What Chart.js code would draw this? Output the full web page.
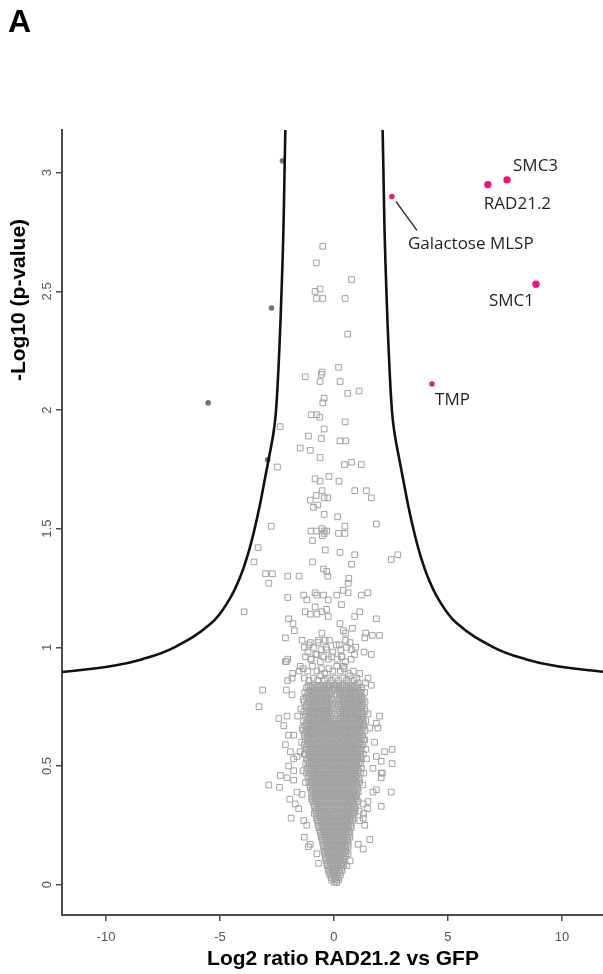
<!DOCTYPE html>
<html>
<head>
<meta charset="utf-8">
<script src="https://cdn.jsdelivr.net/npm/chart.js@4.4.0/dist/chart.umd.min.js"></script>
<style>
  html, body { margin: 0; padding: 0; background: #fff; }
</style>
</head>
<body>
<canvas id="volcano" width="603" height="974"></canvas>
<script>
// volcano plot - RAD21.2 pulldown vs GFP

// ---- Axis ticks ----
const xTicks = [-10, -5, 0, 5, 10];
const yTicks = [0, 0.5, 1, 1.5, 2, 2.5, 3];

// ---- Significance cut-off curves ----
const curveRightX = [2.12, 2.17, 2.22, 2.30, 2.40, 2.54, 2.66, 2.85, 3.05, 3.25, 3.48, 3.75, 4.1, 4.6, 5.4, 7.0, 8.4, 9.8, 12.0];
const curveRightY = [3.25, 3.0, 2.75, 2.5, 2.25, 2.0, 1.9, 1.8, 1.7, 1.6, 1.5, 1.4, 1.3, 1.2, 1.1, 1.0, 0.95, 0.92, 0.895];
const curveLeftX = [-12.0, -9.8, -8.4, -7.0, -5.4, -4.6, -4.1, -3.75, -3.48, -3.25, -3.05, -2.85, -2.66, -2.54, -2.40, -2.30, -2.22, -2.17, -2.12];
const curveLeftY = [0.895, 0.92, 0.95, 1.0, 1.1, 1.2, 1.3, 1.4, 1.5, 1.6, 1.7, 1.8, 1.9, 2.0, 2.25, 2.5, 2.75, 3.0, 3.25];

// ---- Significant hits (pink) ----
const hitNames = ["Galactose MLSP", "RAD21.2", "SMC3", "SMC1", "TMP"];
const hitX = [2.54, 6.75, 7.59, 8.86, 4.30];
const hitY = [2.90, 2.95, 2.97, 2.53, 2.11];

// ---- Filled grey points just outside the left curve ----
const edgeX = [-2.26, -2.74, -5.52, -2.91];
const edgeY = [3.05, 2.43, 2.03, 1.79];

// ---- Open squares: sparse upper part ----
const upperPts = [
  [-0.49,2.69],[-0.77,2.62],[0.77,2.55],[-0.61,2.51],[-0.83,2.50],[-0.77,2.47],[-0.49,2.47],[0.49,2.47],
  [0.60,2.32],[0.20,2.18],[-1.26,2.14],[-0.52,2.16],[-0.55,2.15],[-0.61,2.12],[0.27,2.12],[0.60,2.07],
  [1.10,2.08],[-0.43,2.05],[-0.49,2.03],[-1.0,1.98],[-0.75,1.98],[-0.62,1.97],[0.49,1.95],[-2.36,1.93],
  [-0.43,1.92],[-1.12,1.89],[-0.55,1.88],[0.26,1.87],[0.52,1.87],[-1.48,1.84],[-1.04,1.83],[-0.61,1.80],
  [-2.48,1.76],[0.46,1.77],[0.77,1.78],[1.20,1.77],[-0.83,1.71],[-0.61,1.70],[-0.22,1.72],[0.22,1.70],
  [0.91,1.66],[1.42,1.66],[1.64,1.63],[-1.04,1.62],[-0.78,1.64],[-0.52,1.66],[-0.43,1.63],[-0.27,1.63],
  [-0.90,1.59],[-0.71,1.60],[-0.43,1.56],[0.16,1.55],[-2.75,1.51],[1.86,1.52],[0.48,1.51],[-1.01,1.49],
  [-0.78,1.49],[-0.53,1.50],[-0.43,1.49],[-0.32,1.49],[-0.51,1.47],[-0.43,1.48],[0.20,1.48],[0.48,1.48],
  [-0.94,1.45],[-3.33,1.42],[-0.38,1.41],[0.26,1.40],[0.91,1.39],[-3.51,1.36],[-0.94,1.36],[0.77,1.35],
  [2.51,1.37],[2.80,1.39],[-0.46,1.33],[-0.32,1.32],[-0.27,1.30],[-3.0,1.31],[-2.70,1.31],[-2.03,1.30],
  [-1.53,1.30],[0.65,1.29],[0.62,1.27],[-2.86,1.27],[-2.03,1.21],[-1.33,1.22],[-1.19,1.20],[-0.83,1.23],
  [-0.75,1.22],[-0.46,1.22],[-0.25,1.20],[0.12,1.22],[0.41,1.24],[0.62,1.23],[1.20,1.22],[1.49,1.23],
  [0.33,1.18],[-3.94,1.15],[-1.26,1.15],[-1.04,1.14],[-0.83,1.17],[-0.75,1.14],[-0.53,1.15],[-0.32,1.16],
  [-0.25,1.13],[0.91,1.13],[1.13,1.15],[1.86,1.12],[-1.99,1.12],[-1.80,1.10],[-1.74,1.07],[0.26,1.10],
  [0.41,1.07],[0.51,1.06],[0.81,1.08],[1.39,1.06],[1.35,1.04],[1.68,1.05],[2.0,1.05],[-2.13,1.04],
  [-1.40,1.03],[-1.04,1.02],[-0.68,1.03],[-0.53,1.06],[-0.39,1.03],[0.23,1.01],[0.51,1.03],[0.77,0.99],
  [1.32,0.98],[1.64,0.97],[-2.09,0.94],[-1.48,0.92],[-1.14,0.98],[-1.01,0.95],[-0.75,0.97],[-0.32,0.99],
  [0.33,0.96],[0.41,0.92]
];

// ---- Open squares: fringe around the dense core ----
const fringePts = [
  [-3.13,0.82],[-3.29,0.75],[-2.13,0.94],[-2.03,0.95],[-1.81,0.89],[-1.53,0.90],[-2.03,0.86],[-1.84,0.87],
  [-2.09,0.82],[-1.84,0.80],[-2.42,0.70],[-2.06,0.71],[-1.59,0.71],[-2.20,0.67],[-1.99,0.63],[-1.77,0.63],
  [-2.13,0.59],[-1.91,0.56],[-1.77,0.53],[-1.62,0.54],[-1.48,0.56],[-1.99,0.50],[-1.77,0.48],[-2.35,0.46],
  [1.13,0.89],[1.06,0.85],[1.38,0.85],[1.64,0.84],[1.49,0.87],[1.28,0.78],[0.99,0.76],[2.0,0.71],
  [1.49,0.72],[1.86,0.68],[1.28,0.69],[1.57,0.66],[1.93,0.66],[1.35,0.61],[1.78,0.60],[2.55,0.57],
  [2.22,0.56],[1.42,0.53],[1.86,0.54],[2.07,0.52],[2.55,0.51],[1.71,0.49],[2.07,0.47],
  [-2.86,0.42],[-2.39,0.41],[-2.06,0.45],[-1.77,0.44],[-1.62,0.39],[-1.40,0.38],[-1.94,0.36],[-1.70,0.34],
  [-1.55,0.32],[-1.88,0.28],[-1.33,0.27],[-1.19,0.25],[-1.30,0.20],[-1.04,0.17],[-1.12,0.16],[-0.75,0.13],
  [-0.68,0.09],[2.51,0.39],[2.07,0.33],[1.71,0.39],[1.86,0.40],[2.07,0.45],[2.12,0.47],[1.06,0.35],
  [1.28,0.34],[1.49,0.35],[1.10,0.31],[1.30,0.30],[1.47,0.32],[1.28,0.28],[1.13,0.27],[1.35,0.25],
  [1.57,0.19],[1.28,0.15],[1.06,0.17],[0.62,0.13],[0.70,0.10],[0.55,0.08],[0.12,0.01],
  [-1.35,0.78],[-1.45,0.74],[-1.38,0.66],[-1.42,0.60],[-1.30,0.55],[-1.36,0.48],[-1.25,0.43],
  [1.35,0.74],[1.40,0.57],[1.30,0.47],[1.25,0.42],
  [-1.3,1.0],[-1.1,1.01],[-0.9,1.0],[-0.7,1.02],[-0.55,0.99],[-0.35,1.0],[-0.2,1.03],[-0.05,0.98],
  [0.1,1.01],[0.3,0.99],[0.55,1.0],[0.7,1.02],[0.95,1.0],[-1.25,0.96],[-1.0,0.95],[-0.8,0.97],
  [-0.6,0.94],[-0.45,0.96],[-0.25,0.95],[-0.1,0.96],[0.15,0.95],[0.35,0.96],[0.5,0.94],[0.75,0.95],
  [0.9,0.97],[-1.35,0.91],[-1.15,0.9],[-0.95,0.92],[-0.75,0.9],[-0.55,0.91],[-0.4,0.89],[-0.22,0.91],
  [-0.05,0.9],[0.12,0.92],[0.28,0.9],[0.45,0.91],[0.62,0.89],[0.85,0.9],[-1.3,0.87],[-1.1,0.86],
  [-0.9,0.87],[-0.72,0.86],[-0.58,0.88],[-0.42,0.86],[-0.28,0.87],[-0.12,0.86],[0.05,0.87],[0.2,0.86],
  [0.38,0.87],[0.55,0.86],[0.65,0.85],[0.7,0.88],[0.88,0.86],[1.0,0.87]
];

// ---- Open squares: dense core, one row of x values per level ----
const coreLevels = [0.84,0.82,0.80,0.78,0.76,0.74,0.72,0.70,0.68,0.66,0.64,0.62,0.60,0.58,0.56,0.54,0.52,0.50,
  0.48,0.46,0.44,0.42,0.40,0.38,0.36,0.34,0.32,0.30,0.28,0.26,0.24,0.22,0.20,0.18,0.16,0.14,0.12,0.10,0.08,
  0.06,0.04,0.02,0.01];
const coreXs = [
  [-1.12,-0.95,-0.8,-0.63,-0.48,-0.32,-0.17,-0.02,0.14,0.3,0.46,0.62,0.8,0.97],
  [-1.05,-0.88,-0.72,-0.56,-0.4,-0.25,-0.1,0.06,0.22,0.38,0.55,0.7,0.88,1.05,1.2],
  [-1.15,-0.98,-0.82,-0.66,-0.5,-0.34,-0.18,0.14,0.3,0.47,0.63,0.78,0.95,1.12],
  [-1.08,-0.92,-0.76,-0.6,-0.44,-0.28,-0.12,0.2,0.36,0.52,0.68,0.85,1.0,1.18],
  [-1.18,-1.0,-0.85,-0.68,-0.52,-0.36,-0.2,-0.06,0.16,0.3,0.46,0.62,0.78,0.94,1.1,1.25],
  [-1.1,-0.94,-0.78,-0.62,-0.46,-0.3,-0.14,0.2,0.38,0.54,0.7,0.86,1.02,1.18],
  [-1.2,-1.04,-0.88,-0.72,-0.56,-0.4,-0.24,-0.08,0.16,0.3,0.46,0.62,0.78,0.95,1.12,1.28],
  [-1.12,-0.96,-0.8,-0.64,-0.48,-0.32,-0.16,0.22,0.38,0.54,0.7,0.86,1.04,1.2],
  [-1.22,-1.05,-0.9,-0.74,-0.58,-0.42,-0.26,-0.1,0.06,0.2,0.34,0.5,0.66,0.82,0.98,1.14,1.3],
  [-1.15,-0.98,-0.82,-0.66,-0.5,-0.34,-0.18,-0.02,0.14,0.28,0.44,0.6,0.76,0.92,1.08,1.24],
  [-1.25,-1.08,-0.92,-0.76,-0.6,-0.44,-0.28,-0.12,0.04,0.2,0.36,0.52,0.68,0.84,1.0,1.16],
  [-1.18,-1.02,-0.86,-0.7,-0.54,-0.38,-0.22,-0.06,0.1,0.26,0.42,0.58,0.74,0.9,1.06,1.22],
  [-1.1,-0.94,-0.78,-0.62,-0.46,-0.3,-0.14,0.02,0.18,0.34,0.5,0.66,0.82,0.98,1.14],
  [-1.2,-1.04,-0.88,-0.72,-0.56,-0.4,-0.24,-0.08,0.08,0.24,0.4,0.56,0.72,0.88,1.04,1.2],
  [-1.12,-0.96,-0.8,-0.64,-0.48,-0.32,-0.16,0.0,0.16,0.32,0.48,0.64,0.8,0.96,1.12],
  [-1.05,-0.9,-0.74,-0.58,-0.42,-0.26,-0.1,0.06,0.22,0.38,0.54,0.7,0.86,1.02,1.18],
  [-1.15,-0.98,-0.82,-0.66,-0.5,-0.34,-0.18,-0.02,0.14,0.3,0.46,0.62,0.78,0.94,1.1],
  [-1.08,-0.92,-0.76,-0.6,-0.44,-0.28,-0.12,0.04,0.2,0.36,0.52,0.68,0.84,1.0],
  [-1.02,-0.86,-0.7,-0.54,-0.38,-0.22,-0.06,0.1,0.26,0.42,0.58,0.74,0.9,1.06],
  [-1.1,-0.94,-0.78,-0.62,-0.46,-0.3,-0.14,0.02,0.18,0.34,0.5,0.66,0.82,0.98],
  [-0.98,-0.82,-0.66,-0.5,-0.34,-0.18,-0.02,0.14,0.3,0.46,0.62,0.78,0.94,1.1],
  [-1.05,-0.9,-0.74,-0.58,-0.42,-0.26,-0.1,0.06,0.22,0.38,0.54,0.7,0.86,1.0],
  [-0.95,-0.8,-0.64,-0.48,-0.32,-0.16,0.0,0.16,0.32,0.48,0.64,0.8,0.96],
  [-0.9,-0.74,-0.58,-0.42,-0.26,-0.1,0.06,0.22,0.38,0.54,0.7,0.86,1.0],
  [-0.98,-0.82,-0.66,-0.5,-0.34,-0.18,-0.02,0.14,0.3,0.46,0.62,0.78,0.92],
  [-0.88,-0.72,-0.56,-0.4,-0.24,-0.08,0.08,0.24,0.4,0.56,0.72,0.88],
  [-0.8,-0.64,-0.48,-0.32,-0.16,0.0,0.16,0.32,0.48,0.64,0.8,0.94],
  [-0.86,-0.7,-0.54,-0.38,-0.22,-0.06,0.1,0.26,0.42,0.58,0.74,0.88],
  [-0.76,-0.6,-0.44,-0.28,-0.12,0.04,0.2,0.36,0.52,0.68,0.84],
  [-0.7,-0.54,-0.38,-0.22,-0.06,0.1,0.26,0.42,0.58,0.74],
  [-0.66,-0.5,-0.34,-0.18,-0.02,0.14,0.3,0.46,0.62,0.76],
  [-0.6,-0.44,-0.28,-0.12,0.04,0.2,0.36,0.52,0.68],
  [-0.55,-0.4,-0.24,-0.08,0.08,0.24,0.4,0.56,0.7],
  [-0.5,-0.34,-0.18,-0.02,0.14,0.3,0.46,0.62],
  [-0.46,-0.3,-0.14,0.02,0.18,0.34,0.5,0.62],
  [-0.42,-0.26,-0.1,0.06,0.22,0.38,0.54],
  [-0.38,-0.22,-0.06,0.1,0.26,0.42,0.52],
  [-0.34,-0.18,-0.02,0.14,0.3,0.44],
  [-0.3,-0.14,0.02,0.18,0.34,0.42],
  [-0.24,-0.08,0.08,0.24,0.36],
  [-0.18,-0.02,0.14,0.28],
  [-0.1,0.06,0.2],
  [0.0,0.12]
];

// ---- Dense core, in-between rows ----
const coreLevels2 = [0.83,0.81,0.79,0.77,0.75,0.73,0.71,0.69,0.67,0.65,0.63,0.61,0.59,0.57,0.55,0.53,0.51,0.49,
  0.47,0.45,0.43,0.41,0.39,0.37,0.35,0.33,0.31,0.29,0.27,0.25,0.23,0.21,0.19,0.17,0.15,0.13,0.11,0.09,0.07,
  0.05,0.03];
const coreXs2 = [
  [-1.2,-1.03,-0.87,-0.71,-0.55,-0.4,-0.24,-0.08,0.06,0.22,0.38,0.54,0.71,0.88,1.05,1.22],
  [-1.28,-1.12,-0.96,-0.8,-0.64,-0.48,-0.32,-0.16,0.22,0.38,0.54,0.7,0.86,1.02,1.18,1.34],
  [-1.22,-1.06,-0.9,-0.74,-0.58,-0.42,-0.26,-0.1,0.26,0.42,0.58,0.74,0.9,1.06,1.22],
  [-1.3,-1.14,-0.98,-0.82,-0.66,-0.5,-0.34,-0.18,0.24,0.4,0.56,0.72,0.88,1.04,1.2,1.36],
  [-1.24,-1.08,-0.92,-0.76,-0.6,-0.44,-0.28,-0.12,0.26,0.42,0.58,0.74,0.9,1.06,1.22],
  [-1.32,-1.16,-1.0,-0.84,-0.68,-0.52,-0.36,-0.2,0.24,0.4,0.56,0.72,0.88,1.04,1.2,1.36],
  [-1.26,-1.1,-0.94,-0.78,-0.62,-0.46,-0.3,-0.14,0.28,0.44,0.6,0.76,0.92,1.08,1.24],
  [-1.34,-1.18,-1.02,-0.86,-0.7,-0.54,-0.38,-0.22,-0.04,0.12,0.28,0.44,0.6,0.76,0.92,1.08,1.24,1.4],
  [-1.28,-1.12,-0.96,-0.8,-0.64,-0.48,-0.32,-0.16,0.0,0.16,0.32,0.48,0.64,0.8,0.96,1.12,1.28],
  [-1.36,-1.2,-1.04,-0.88,-0.72,-0.56,-0.4,-0.24,-0.08,0.08,0.24,0.4,0.56,0.72,0.88,1.04,1.2,1.36],
  [-1.3,-1.14,-0.98,-0.82,-0.66,-0.5,-0.34,-0.18,-0.02,0.14,0.3,0.46,0.62,0.78,0.94,1.1,1.26],
  [-1.26,-1.1,-0.94,-0.78,-0.62,-0.46,-0.3,-0.14,0.02,0.18,0.34,0.5,0.66,0.82,0.98,1.14,1.3],
  [-1.3,-1.14,-0.98,-0.82,-0.66,-0.5,-0.34,-0.18,-0.02,0.14,0.3,0.46,0.62,0.78,0.94,1.1,1.26],
  [-1.22,-1.06,-0.9,-0.74,-0.58,-0.42,-0.26,-0.1,0.06,0.22,0.38,0.54,0.7,0.86,1.02,1.18],
  [-1.26,-1.1,-0.94,-0.78,-0.62,-0.46,-0.3,-0.14,0.02,0.18,0.34,0.5,0.66,0.82,0.98,1.14,1.28],
  [-1.2,-1.04,-0.88,-0.72,-0.56,-0.4,-0.24,-0.08,0.08,0.24,0.4,0.56,0.72,0.88,1.04,1.2],
  [-1.24,-1.08,-0.92,-0.76,-0.6,-0.44,-0.28,-0.12,0.04,0.2,0.36,0.52,0.68,0.84,1.0,1.16],
  [-1.18,-1.02,-0.86,-0.7,-0.54,-0.38,-0.22,-0.06,0.1,0.26,0.42,0.58,0.74,0.9,1.06,1.2],
  [-1.2,-1.04,-0.88,-0.72,-0.56,-0.4,-0.24,-0.08,0.08,0.24,0.4,0.56,0.72,0.88,1.04,1.16],
  [-1.14,-0.98,-0.82,-0.66,-0.5,-0.34,-0.18,-0.02,0.14,0.3,0.46,0.62,0.78,0.94,1.1],
  [-1.1,-0.94,-0.78,-0.62,-0.46,-0.3,-0.14,0.02,0.18,0.34,0.5,0.66,0.82,0.98,1.12],
  [-1.04,-0.88,-0.72,-0.56,-0.4,-0.24,-0.08,0.08,0.24,0.4,0.56,0.72,0.88,1.04],
  [-1.0,-0.84,-0.68,-0.52,-0.36,-0.2,-0.04,0.12,0.28,0.44,0.6,0.76,0.92,1.06],
  [-0.96,-0.8,-0.64,-0.48,-0.32,-0.16,0.0,0.16,0.32,0.48,0.64,0.8,0.96],
  [-0.92,-0.76,-0.6,-0.44,-0.28,-0.12,0.04,0.2,0.36,0.52,0.68,0.84,0.98],
  [-0.86,-0.7,-0.54,-0.38,-0.22,-0.06,0.1,0.26,0.42,0.58,0.74,0.9],
  [-0.8,-0.64,-0.48,-0.32,-0.16,0.0,0.16,0.32,0.48,0.64,0.8,0.92],
  [-0.78,-0.62,-0.46,-0.3,-0.14,0.02,0.18,0.34,0.5,0.66,0.82],
  [-0.72,-0.56,-0.4,-0.24,-0.08,0.08,0.24,0.4,0.56,0.72,0.82],
  [-0.68,-0.52,-0.36,-0.2,-0.04,0.12,0.28,0.44,0.6,0.74],
  [-0.62,-0.46,-0.3,-0.14,0.02,0.18,0.34,0.5,0.66],
  [-0.56,-0.4,-0.24,-0.08,0.08,0.24,0.4,0.56,0.66],
  [-0.52,-0.36,-0.2,-0.04,0.12,0.28,0.44,0.58],
  [-0.48,-0.32,-0.16,0.0,0.16,0.32,0.48,0.6],
  [-0.44,-0.28,-0.12,0.04,0.2,0.36,0.5],
  [-0.4,-0.24,-0.08,0.08,0.24,0.4,0.5],
  [-0.36,-0.2,-0.04,0.12,0.28,0.42],
  [-0.3,-0.14,0.02,0.18,0.32,0.4],
  [-0.26,-0.1,0.06,0.22,0.34],
  [-0.2,-0.04,0.12,0.26],
  [-0.12,0.04,0.18]
];

// ---- Build point tables for Chart.js ----
const proteinPts = [];
upperPts.forEach(p => proteinPts.push({ x: p[0], y: p[1] }));
fringePts.forEach(p => proteinPts.push({ x: p[0], y: p[1] }));
coreLevels.forEach((lvl, i) => coreXs[i].forEach(v => proteinPts.push({ x: v, y: lvl })));
coreLevels2.forEach((lvl, i) => coreXs2[i].forEach(v => proteinPts.push({ x: v, y: lvl })));

const toXY = (xs, ys) => xs.map((v, i) => ({ x: v, y: ys[i] }));

const FONT = '"Liberation Sans", Arial, sans-serif';

// label placement relative to each hit (pixels)
const labelOffsets = {
  "Galactose MLSP": [16, 48],
  "RAD21.2": [-4, 20],
  "SMC3": [6, -14],
  "SMC1": [-47, 17],
  "TMP": [3, 16]
};

// ---- Text drawn on top: panel letter, titles, rotated y ticks, hit labels ----
const annotate = {
  id: "annotate",
  afterDraw(chart) {
    const { ctx, scales } = chart;
    const xs = scales.x, ys = scales.y;
    ctx.save();

    ctx.fillStyle = "#000";
    ctx.font = "bold 32px " + FONT;
    ctx.textAlign = "left";
    ctx.textBaseline = "alphabetic";
    ctx.fillText("A", 8, 32);

    // y tick labels read bottom-to-top
    ctx.font = "13px " + FONT;
    ctx.fillStyle = "#555";
    ctx.textAlign = "center";
    ctx.textBaseline = "middle";
    yTicks.forEach(v => {
      ctx.save();
      ctx.translate(47, ys.getPixelForValue(v));
      ctx.rotate(-Math.PI / 2);
      ctx.fillText(String(v), 0, 0);
      ctx.restore();
    });

    // axis titles
    ctx.fillStyle = "#000";
    ctx.font = "bold 21px " + FONT;
    ctx.fillText("Log2 ratio RAD21.2 vs GFP", 343, 959);
    ctx.save();
    ctx.translate(19, 300);
    ctx.rotate(-Math.PI / 2);
    ctx.fillText("-Log10 (p-value)", 0, 0);
    ctx.restore();

    // hit labels
    ctx.font = "17px \"Open Sans\", " + FONT;
    ctx.fillStyle = "#231f20";
    ctx.textAlign = "left";
    hitNames.forEach((name, i) => {
      const px = xs.getPixelForValue(hitX[i]);
      const py = ys.getPixelForValue(hitY[i]);
      const off = labelOffsets[name];
      ctx.fillText(name, px + off[0], py + off[1]);
      if (name === "Galactose MLSP") {
        ctx.strokeStyle = "#231f20";
        ctx.lineWidth = 1.3;
        ctx.beginPath();
        ctx.moveTo(px + 4, py + 5);
        ctx.lineTo(px + 25, py + 34);
        ctx.stroke();
      }
    });
    ctx.restore();
  }
};

const axisLine = { display: true, color: "#4d4d4d", width: 2 };
const tickMarks = { drawOnChartArea: false, drawTicks: true, tickLength: 6, color: "#4d4d4d", lineWidth: 1.5 };

new Chart(document.getElementById("volcano").getContext("2d"), {
  type: "scatter",
  data: {
    datasets: [
      {
        label: "proteins",
        data: proteinPts,
        pointStyle: "rect",
        pointRadius: 4,
        borderWidth: 1,
        borderColor: "#a2a2a2",
        backgroundColor: "rgba(0,0,0,0)"
      },
      {
        label: "cutoff right",
        data: toXY(curveRightX, curveRightY),
        showLine: true,
        tension: 0.4,
        borderColor: "#111",
        borderWidth: 2.6,
        pointRadius: 0
      },
      {
        label: "cutoff left",
        data: toXY(curveLeftX, curveLeftY),
        showLine: true,
        tension: 0.4,
        borderColor: "#111",
        borderWidth: 2.6,
        pointRadius: 0
      },
      {
        label: "edge",
        data: toXY(edgeX, edgeY),
        pointRadius: 2.8,
        borderWidth: 0,
        backgroundColor: "#737373"
      },
      {
        label: "hits",
        data: toXY(hitX, hitY),
        pointRadius: [2.7, 3.7, 3.7, 3.7, 2.7],
        borderWidth: 0,
        backgroundColor: "#ef1577"
      }
    ]
  },
  options: {
    responsive: false,
    animation: false,
    layout: { autoPadding: false, padding: { top: 130, right: 0, bottom: 0, left: 0 } },
    plugins: { legend: { display: false }, tooltip: { enabled: false } },
    scales: {
      x: {
        type: "linear",
        min: -11.93,
        max: 11.8,
        afterBuildTicks: s => { s.ticks = xTicks.map(v => ({ value: v })); },
        afterFit: s => { s.height = 59; },
        grid: tickMarks,
        border: axisLine,
        ticks: { color: "#555", font: { size: 13, family: FONT }, padding: 9, maxRotation: 0 }
      },
      y: {
        type: "linear",
        min: -0.128,
        max: 3.18,
        afterBuildTicks: s => { s.ticks = yTicks.map(v => ({ value: v })); },
        afterFit: s => { s.width = 62; },
        grid: tickMarks,
        border: axisLine,
        ticks: { color: "rgba(0,0,0,0)", font: { size: 13, family: FONT } }
      }
    }
  },
  plugins: [annotate]
});
</script>
</body>
</html>
